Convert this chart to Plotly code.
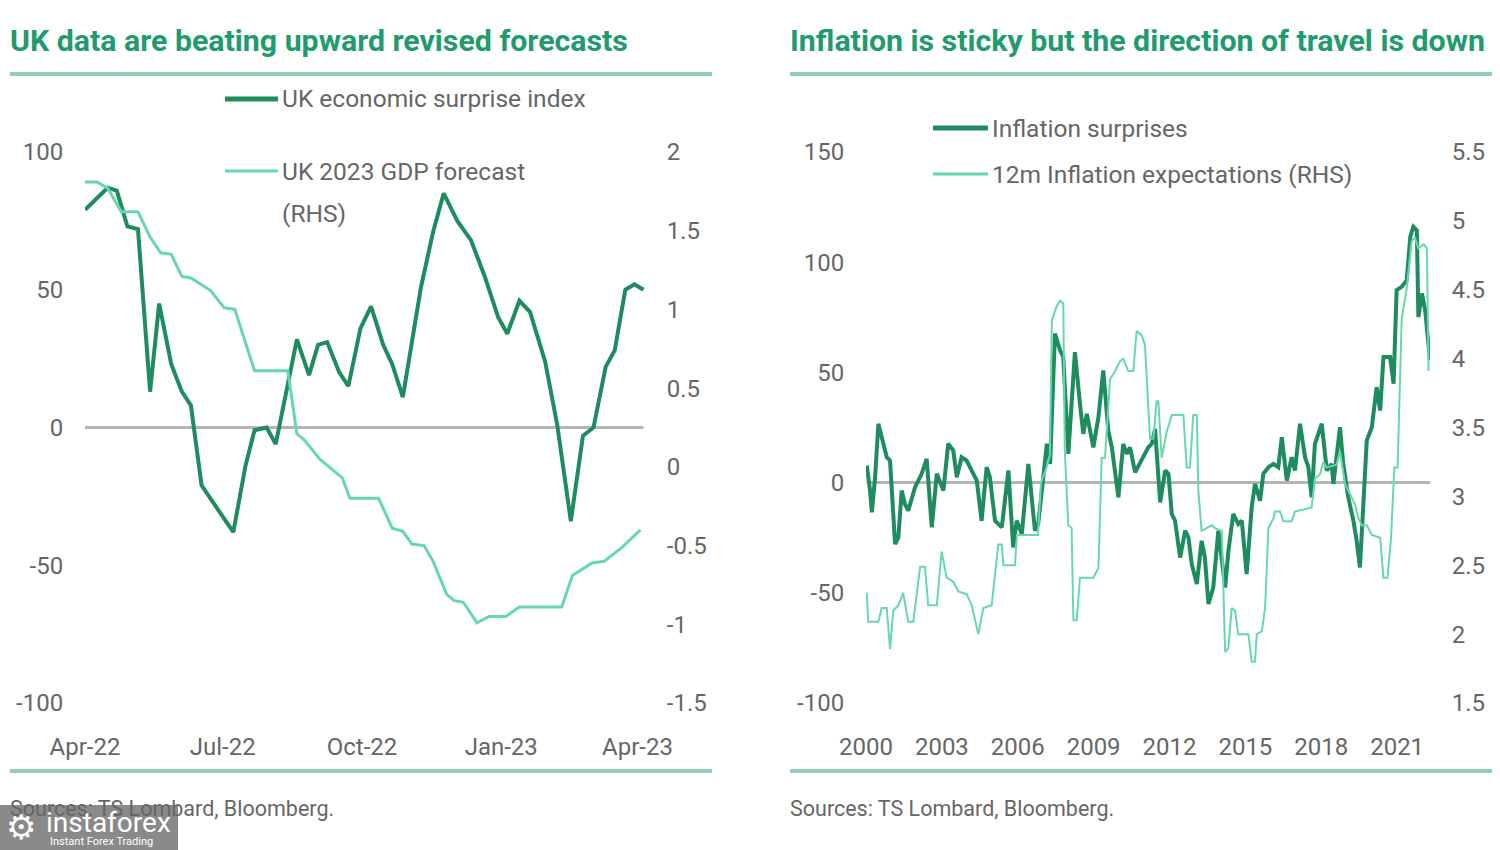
import plotly.graph_objects as go

# ---------------- Left panel data ----------------
left_title = "UK data are beating upward revised forecasts"
surprise_dates = ["2022-04-01","2022-04-16","2022-04-22","2022-04-29","2022-05-06","2022-05-14","2022-05-20","2022-05-28","2022-06-04","2022-06-10",
                  "2022-06-17","2022-06-27","2022-07-08","2022-07-16","2022-07-22","2022-07-30","2022-08-05","2022-08-19","2022-08-27","2022-09-02",
                  "2022-09-08","2022-09-16","2022-09-22","2022-09-30","2022-10-07","2022-10-15","2022-10-21","2022-10-28","2022-11-09","2022-11-17",
                  "2022-11-24","2022-12-03","2022-12-12","2022-12-21","2022-12-30","2023-01-05","2023-01-13","2023-01-20","2023-01-30","2023-02-07",
                  "2023-02-16","2023-02-24","2023-03-03","2023-03-11","2023-03-17","2023-03-24","2023-03-30","2023-04-05"]
surprise_vals = [79,87,86,73,72,13,45,23,13,8,
                 -21,-29,-38,-14,-1,0,-6,32,19,30,
                 31,20,15,36,44,30,23,11,51,71,
                 85,75,68,55,40,34,46,42,24,1,
                 -34,-3,0,22,28,50,52,50]
gdp_dates = ["2022-04-01","2022-04-09","2022-04-16","2022-04-25","2022-05-06","2022-05-14","2022-05-21","2022-05-28","2022-06-04","2022-06-10",
             "2022-06-23","2022-07-02","2022-07-09","2022-07-22","2022-08-13","2022-08-19","2022-08-24","2022-09-03","2022-09-13","2022-09-18",
             "2022-09-23","2022-10-12","2022-10-21","2022-10-28","2022-11-03","2022-11-11","2022-11-17","2022-11-26","2022-12-01","2022-12-07",
             "2022-12-16","2022-12-24","2023-01-04","2023-01-13","2023-02-10","2023-02-17","2023-03-02","2023-03-10","2023-03-22","2023-04-03"]
gdp_vals = [1.81,1.81,1.77,1.62,1.62,1.46,1.36,1.35,1.21,1.20,
            1.12,1.01,1.00,0.61,0.61,0.21,0.17,0.05,-0.03,-0.07,
            -0.20,-0.20,-0.39,-0.41,-0.49,-0.50,-0.60,-0.81,-0.85,-0.86,
            -0.99,-0.95,-0.95,-0.89,-0.89,-0.69,-0.61,-0.60,-0.51,-0.40]
left_x_ticks = ["2022-04-01","2022-07-01","2022-10-01","2023-01-01","2023-04-01"]
left_x_labels = ["Apr-22","Jul-22","Oct-22","Jan-23","Apr-23"]
left_y_ticks = [-100,-50,0,50,100]
left_y_labels = ["-100","-50","0","50","100"]
left_y2_ticks = [-1.5,-1,-0.5,0,0.5,1,1.5,2]
left_y2_labels = ["-1.5","-1","-0.5","0","0.5","1","1.5","2"]

# ---------------- Right panel data ----------------
right_title = "Inflation is sticky but the direction of travel is down"
infl_years = [2000.03,2000.16,2000.23,2000.36,2000.49,2000.68,2000.82,2000.95,2001.08,2001.15,
              2001.28,2001.41,2001.54,2001.67,2001.94,2002.20,2002.40,2002.60,2002.80,2003.06,
              2003.25,2003.45,2003.59,2003.78,2003.98,2004.18,2004.38,2004.57,2004.77,2004.90,
              2005.10,2005.37,2005.63,2005.82,2005.96,2006.16,2006.42,2006.68,2006.81,2007.01,
              2007.15,2007.28,2007.47,2007.67,2007.80,2008.00,2008.26,2008.46,2008.59,2008.73,
              2008.99,2009.19,2009.38,2009.58,2009.72,2009.98,2010.17,2010.31,2010.44,2010.64,
              2010.90,2011.16,2011.30,2011.43,2011.63,2011.83,2011.96,2012.09,2012.22,2012.42,
              2012.62,2012.75,2012.88,2013.08,2013.27,2013.40,2013.54,2013.73,2013.93,2014.07,
              2014.20,2014.33,2014.52,2014.72,2014.86,2015.05,2015.25,2015.38,2015.58,2015.71,
              2015.91,2016.11,2016.30,2016.44,2016.64,2016.83,2016.96,2017.16,2017.36,2017.49,
              2017.62,2017.75,2018.02,2018.22,2018.41,2018.48,2018.74,2018.87,2019.07,2019.27,
              2019.40,2019.53,2019.73,2019.80,2020.00,2020.19,2020.33,2020.46,2020.72,2020.86,
              2020.98,2021.18,2021.38,2021.52,2021.64,2021.78,2021.84,2021.98,2022.11,2022.24,
              2022.30]
infl_surprise = [7.7,-3.6,-13.5,2.4,26.7,17.6,11.5,10,-18.8,-27.9,
                 -24.9,-3.6,-9.7,-12.7,-2.1,4,10.8,-20.3,4,-3.6,
                 17.6,14.5,2.4,11.5,10,5.5,0.9,-17.3,7,2.4,
                 -17.3,-20.3,5.5,-29.4,-17.3,-23.3,8.5,-21.8,-18.8,2.4,
                 17.6,8.5,67.6,60,57,13,59.2,35.8,22.1,31.2,
                 16,29.7,50.9,23.6,16,-6.7,17.6,13,16,4.7,
                 10,16,17.6,24.4,-9,5.5,4,-14.2,-17.3,-34,
                 -21.8,-24.9,-37,-46,-26.4,-34,-55.1,-47.6,-21.8,-34,
                 -47.6,-30.9,-14.2,-18.8,-17.3,-41.5,-11.2,-0.6,-8.2,4,
                 7,8.5,7,20.6,0.9,11.5,5.5,26.7,11.5,7,
                 -6.7,17.6,26.7,5.5,8.5,-0.6,25.1,8.5,-6.7,-17.3,
                 -26.4,-38.5,8.5,19.1,25.1,43.3,32.7,57,57,44.9,
                 87.3,88.8,91.8,111.5,116.1,114.5,75.1,85.8,78.2,60,
                 55.5]
expect_years = [2000.03,2000.09,2000.49,2000.62,2000.82,2000.95,2001.08,2001.28,2001.47,2001.67,
                2001.87,2002.14,2002.33,2002.46,2002.80,2002.99,2003.19,2003.45,2003.65,2003.98,
                2004.18,2004.44,2004.64,2004.97,2005.23,2005.37,2005.43,2005.89,2005.97,2006.80,
                2006.92,2007.12,2007.27,2007.35,2007.54,2007.67,2007.80,2007.86,2008.00,2008.13,
                2008.20,2008.33,2008.46,2008.99,2009.19,2009.32,2009.45,2009.65,2009.85,2010.04,
                2010.17,2010.37,2010.57,2010.70,2010.90,2011.03,2011.23,2011.36,2011.49,2011.56,
                2011.69,2011.89,2012.09,2012.55,2012.68,2012.81,2012.94,2013.08,2013.14,2013.27,
                2013.67,2013.80,2014.07,2014.20,2014.33,2014.46,2014.59,2014.72,2015.12,2015.25,
                2015.38,2015.45,2015.65,2015.78,2015.91,2016.11,2016.17,2016.37,2016.50,2016.83,
                2016.96,2017.62,2017.75,2017.95,2018.08,2018.22,2018.61,2018.74,2018.94,2019.14,
                2019.34,2019.47,2019.60,2019.80,2020.00,2020.33,2020.46,2020.62,2020.76,2020.89,
                2021.02,2021.18,2021.38,2021.57,2021.70,2021.84,2022.05,2022.18,2022.24]
expect_vals = [2.30,2.09,2.09,2.19,2.19,1.89,2.17,2.21,2.30,2.09,
               2.09,2.49,2.49,2.21,2.21,2.60,2.41,2.38,2.31,2.29,
               2.21,2.00,2.19,2.21,2.65,2.65,2.50,2.50,2.72,2.72,
               3.10,3.20,3.30,4.28,4.38,4.42,4.40,3.33,2.79,2.77,
               2.10,2.10,2.41,2.41,2.48,3.28,3.28,3.85,3.91,3.98,
               4.00,3.91,3.91,4.20,4.17,4.10,3.42,3.42,3.69,3.69,
               3.28,3.47,3.59,3.59,3.21,3.21,3.59,3.59,3.04,2.75,
               2.79,2.77,2.75,1.87,1.90,2.19,2.17,2.00,2.00,1.80,
               1.80,2.00,2.02,2.19,2.77,2.84,2.89,2.89,2.82,2.82,
               2.89,2.92,3.13,3.16,3.25,3.21,3.23,3.33,3.09,3.01,
               2.94,2.84,2.79,2.79,2.72,2.70,2.41,2.41,2.70,3.21,
               3.21,4.29,4.51,4.85,4.88,4.80,4.83,4.80,3.91]
right_x_ticks = [2000,2003,2006,2009,2012,2015,2018,2021]
right_x_labels = ["2000","2003","2006","2009","2012","2015","2018","2021"]
right_y_ticks = [-100,-50,0,50,100,150]
right_y_labels = ["-100","-50","0","50","100","150"]
right_y2_ticks = [1.5,2,2.5,3,3.5,4,4.5,5,5.5]
right_y2_labels = ["1.5","2","2.5","3","3.5","4","4.5","5","5.5"]

legend_left = ["UK economic surprise index", "UK 2023 GDP forecast", "(RHS)"]
legend_right = ["Inflation surprises", "12m Inflation expectations (RHS)"]
source_text = "Sources: TS Lombard, Bloomberg."

# ---------------- Styling ----------------
W, H = 1500, 850
DARK = "#1f8c5f"
LIGHT = "#67d8ac"
TITLE_C = "#1f9b6d"
RULE_C = "#8fcfb6"
TEXT_C = "#666666"
ZERO_C = "#b5b5b5"
FONT = "Roboto, 'Noto Sans', sans-serif"

def px(x):
    return x / W

def py(y):
    return 1 - y / H

fig = go.Figure()

fig.add_trace(go.Scatter(x=gdp_dates, y=gdp_vals, mode="lines", line=dict(color=LIGHT, width=3),
                         xaxis="x", yaxis="y2", showlegend=False, hoverinfo="skip"))
fig.add_trace(go.Scatter(x=surprise_dates, y=surprise_vals, mode="lines", line=dict(color=DARK, width=4),
                         xaxis="x", yaxis="y", showlegend=False, hoverinfo="skip"))
fig.add_trace(go.Scatter(x=expect_years, y=expect_vals, mode="lines", line=dict(color=LIGHT, width=2),
                         xaxis="x2", yaxis="y4", showlegend=False, hoverinfo="skip"))
fig.add_trace(go.Scatter(x=infl_years, y=infl_surprise, mode="lines", line=dict(color=DARK, width=4),
                         xaxis="x2", yaxis="y3", showlegend=False, hoverinfo="skip"))

ydom = [py(703), py(152)]
tickfont = dict(family=FONT, size=24, color=TEXT_C)
common_y = dict(showgrid=False, zeroline=False, showline=False, ticks="outside", automargin=False,
                tickcolor="rgba(0,0,0,0)", ticklen=16, tickfont=tickfont, fixedrange=True)
common_x = dict(showgrid=False, zeroline=False, showline=False, ticks="outside", automargin=False,
                tickcolor="rgba(0,0,0,0)", ticklen=22, tickfont=tickfont, fixedrange=True)

fig.update_layout(
    template="none",
    width=W, height=H, margin=dict(l=0, r=0, t=0, b=0, pad=0, autoexpand=False),
    paper_bgcolor="white", plot_bgcolor="white", showlegend=False,
    xaxis=dict(domain=[px(85), px(645)], type="date", range=["2022-04-01", "2023-04-06"],
               tickmode="array", tickvals=left_x_ticks, ticktext=left_x_labels, anchor="y", **common_x),
    yaxis=dict(domain=ydom, range=[-100, 100], tickmode="array", tickvals=left_y_ticks,
               ticktext=left_y_labels, anchor="x", **common_y),
    yaxis2=dict(range=[-1.5, 2], tickmode="array", tickvals=left_y2_ticks, ticktext=left_y2_labels,
                overlaying="y", side="right", anchor="x", **common_y),
    xaxis2=dict(domain=[px(866), px(1430)], range=[2000, 2022.3], tickmode="array",
                tickvals=right_x_ticks, ticktext=right_x_labels, anchor="y3", **common_x),
    yaxis3=dict(domain=ydom, range=[-100, 150], tickmode="array", tickvals=right_y_ticks,
                ticktext=right_y_labels, anchor="x2", **common_y),
    yaxis4=dict(range=[1.5, 5.5], tickmode="array", tickvals=right_y2_ticks, ticktext=right_y2_labels,
                overlaying="y3", side="right", anchor="x2", **common_y),
)

shapes = []
# zero lines
shapes.append(dict(type="line", xref="x", yref="y", x0=surprise_dates[0], x1=surprise_dates[-1], y0=0, y1=0,
                   line=dict(color=ZERO_C, width=3), layer="below"))
shapes.append(dict(type="line", xref="x2", yref="y3", x0=infl_years[0], x1=infl_years[-1], y0=0, y1=0,
                   line=dict(color=ZERO_C, width=3), layer="below"))
# rules
for (x0, x1) in [(10, 712), (790, 1492)]:
    for yy in (74, 771):
        shapes.append(dict(type="line", xref="paper", yref="paper", x0=px(x0), x1=px(x1), y0=py(yy), y1=py(yy),
                           line=dict(color=RULE_C, width=4)))
# legend swatches
shapes.append(dict(type="line", xref="paper", yref="paper", x0=px(225), x1=px(278), y0=py(99), y1=py(99),
                   line=dict(color=DARK, width=5)))
shapes.append(dict(type="line", xref="paper", yref="paper", x0=px(225), x1=px(278), y0=py(171), y1=py(171),
                   line=dict(color=LIGHT, width=3)))
shapes.append(dict(type="line", xref="paper", yref="paper", x0=px(933), x1=px(988), y0=py(128), y1=py(128),
                   line=dict(color=DARK, width=5)))
shapes.append(dict(type="line", xref="paper", yref="paper", x0=px(933), x1=px(988), y0=py(174), y1=py(174),
                   line=dict(color=LIGHT, width=3)))
# watermark box
shapes.append(dict(type="rect", xref="paper", yref="paper", x0=0, x1=px(178), y0=0, y1=py(805),
                   fillcolor="#8a8a8a", line=dict(width=0)))
fig.update_layout(shapes=shapes)

ann = []
def txt(x, y, s, size, color, bold=False, xanchor="left", family=FONT):
    ann.append(dict(xref="paper", yref="paper", x=px(x), y=py(y), text=("<b>%s</b>" % s) if bold else s,
                    showarrow=False, xanchor=xanchor, yanchor="middle",
                    font=dict(family=family, size=size, color=color)))

txt(8, 40, left_title, 30.3, TITLE_C, bold=True)
txt(788, 40, right_title, 30.3, TITLE_C, bold=True)
txt(280, 99, legend_left[0], 24.5, TEXT_C)
txt(280, 171, legend_left[1], 24.5, TEXT_C)
txt(280, 213, legend_left[2], 24.5, TEXT_C)
txt(990, 128, legend_right[0], 24.5, TEXT_C)
txt(990, 174, legend_right[1], 24.5, TEXT_C)
txt(8, 808, source_text, 21.5, TEXT_C)
txt(788, 808, source_text, 21.5, TEXT_C)
txt(4, 827, "\u2699", 34, "white", family="DejaVu Sans")
txt(44, 822, "instaforex", 28, "white")
txt(48, 841, "Instant Forex Trading", 11, "white")
fig.update_layout(annotations=ann)

fig.write_html("out.html")
